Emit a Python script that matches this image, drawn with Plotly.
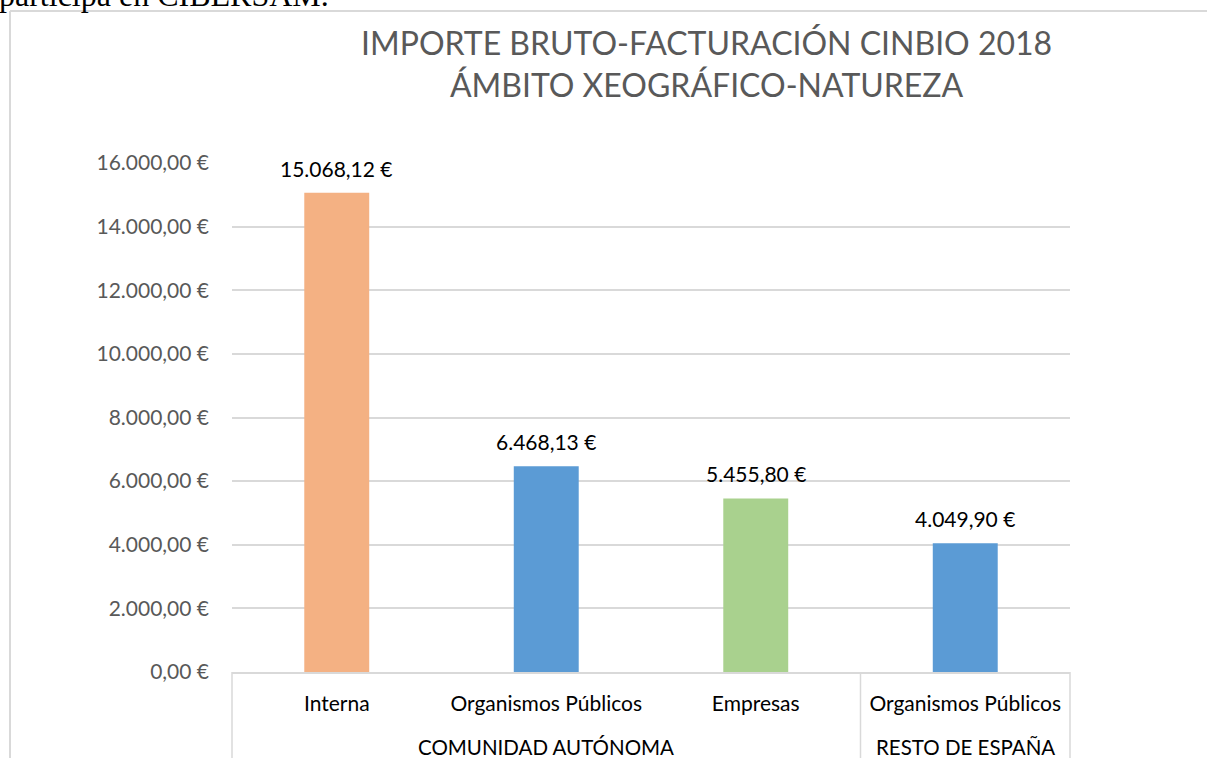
import plotly.graph_objects as go

categories = ["Interna", "Organismos Públicos", "Empresas", "Organismos Públicos"]
groups = ["COMUNIDAD AUTÓNOMA", "RESTO DE ESPAÑA"]
group_sizes = [3, 1]
values = [15068.12, 6468.13, 5455.80, 4049.90]
colors = ["#F4B183", "#5B9BD5", "#A9D18E", "#5B9BD5"]
y_ticks = [0, 2000, 4000, 6000, 8000, 10000, 12000, 14000, 16000]


def eur(v):
    s = f"{v:,.2f}"
    s = s.replace(",", "X").replace(".", ",").replace("X", ".")
    return s + " €"


W, H = 1207, 758
# plot area in page pixels: x 232..1070, y 163..672
L, T = 232, 163
R = W - 1070
B = H - 672
pw, ph = W - L - R, H - T - B


def px_x(px):
    return (px - L) / pw


def px_y(py):
    return (H - B - py) / ph


xs = list(range(len(categories)))

fig = go.Figure()
fig.add_trace(go.Bar(
    x=xs, y=values, width=0.31,
    marker=dict(color=colors, line=dict(width=0)),
    hoverinfo="skip",
))

shapes = []
shapes.append(dict(type="line", xref="paper", yref="paper",
                   x0=px_x(10), x1=px_x(1207), y0=px_y(11), y1=px_y(11),
                   line=dict(color="#D9D9D9", width=2)))
shapes.append(dict(type="line", xref="paper", yref="paper",
                   x0=px_x(10), x1=px_x(10), y0=px_y(11), y1=px_y(770),
                   line=dict(color="#D9D9D9", width=2)))
n = len(categories)
pos = 0
bounds = [0]
for g in group_sizes:
    pos += g
    bounds.append(pos)
for b in bounds:
    shapes.append(dict(type="line", xref="paper", yref="paper",
                       x0=b / n, x1=b / n, y0=0, y1=px_y(770),
                       line=dict(color="#D9D9D9", width=1.5)))

annotations = []
for x, v in zip(xs, values):
    annotations.append(dict(text=eur(v), x=x, y=v, xref="x", yref="y",
                            xanchor="center", yanchor="bottom", yshift=10,
                            showarrow=False,
                            font=dict(family="Lato", size=21, color="#000000")))
for i, g in enumerate(groups):
    c = (bounds[i] + bounds[i + 1]) / 2 / n
    annotations.append(dict(text=g, xref="paper", yref="paper", x=c, y=px_y(747),
                            xanchor="center", yanchor="middle", showarrow=False,
                            font=dict(family="Lato", size=20.5, color="#000000")))
annotations.append(dict(text="participa en CIBERSAM.", xref="paper", yref="paper",
                        x=px_x(-3), y=px_y(15), xanchor="left", yanchor="bottom",
                        showarrow=False,
                        font=dict(family="Liberation Serif", size=32, color="#000000")))
annotations.append(dict(text="IMPORTE BRUTO-FACTURACIÓN CINBIO 2018<br>ÁMBITO XEOGRÁFICO-NATUREZA",
                        xref="paper", yref="paper", x=px_x(706), y=px_y(64),
                        xanchor="center", yanchor="middle", showarrow=False,
                        font=dict(family="Lato", size=32, color="#595959")))

fig.update_layout(
    width=W, height=H,
    margin=dict(l=L, r=R, t=T, b=B),
    paper_bgcolor="white", plot_bgcolor="white",
    showlegend=False,
    shapes=shapes, annotations=annotations,
    xaxis=dict(tickmode="array", tickvals=xs, ticktext=categories, range=[-0.5, 3.5],
               showgrid=False, showline=True, linecolor="#D9D9D9", linewidth=1.5,
               ticks="", ticklabelstandoff=12,
               tickfont=dict(family="Lato", size=21, color="#000000"), zeroline=False),
    yaxis=dict(range=[0, 16000], tickmode="array", tickvals=y_ticks,
               ticktext=[eur(v) for v in y_ticks],
               showgrid=True, gridcolor="#D9D9D9", gridwidth=1.5, zeroline=False,
               showline=False, ticks="", ticklabelstandoff=22,
               tickfont=dict(family="Lato", size=21, color="#595959")),
)

fig.write_html("out.html", config={"displayModeBar": False},
               post_script="document.body.style.margin='0';document.body.style.overflow='hidden';")
